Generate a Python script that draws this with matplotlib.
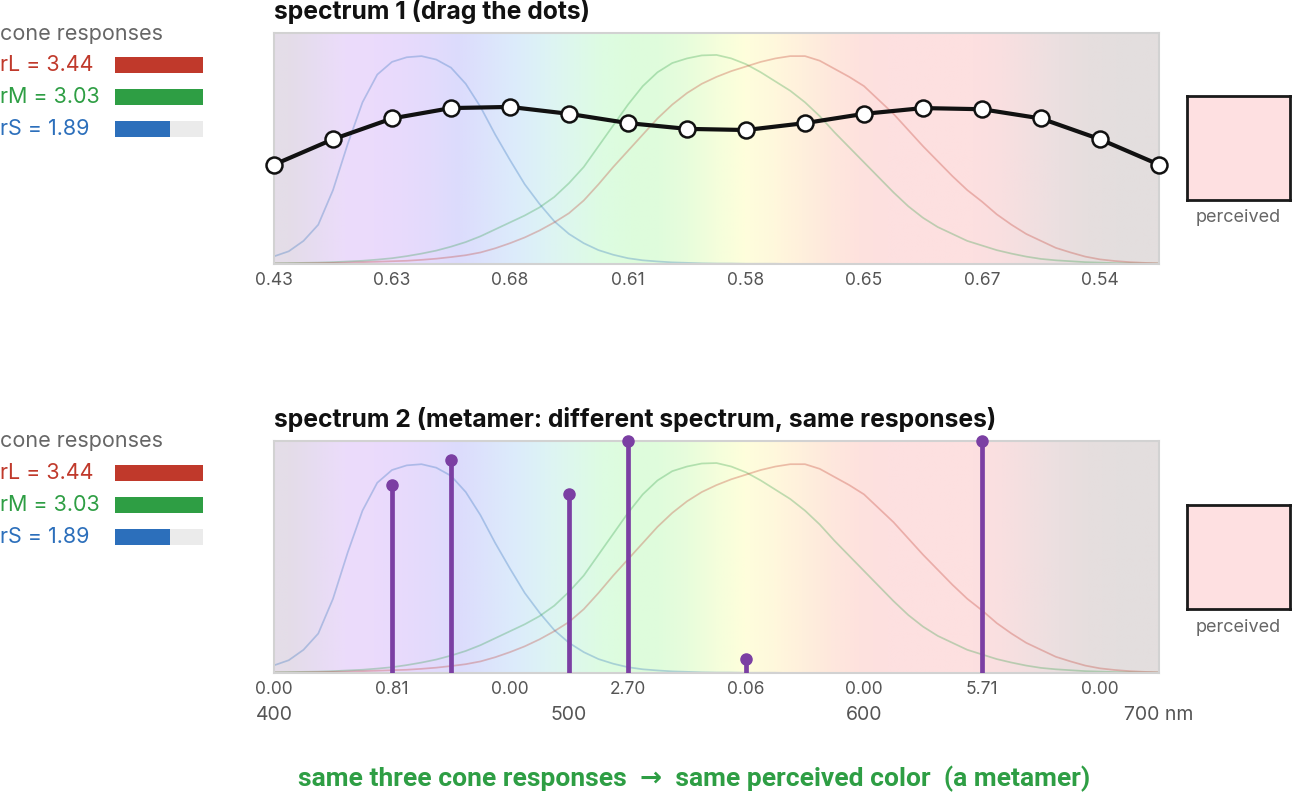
import numpy as np
import matplotlib
matplotlib.use("Agg")
import matplotlib.pyplot as plt
from matplotlib.colors import to_rgb
import matplotlib.transforms as mtransforms

plt.rcParams['font.family'] = ['Inter', 'DejaVu Sans']

# ---- data ----
# sample wavelengths of the two spectra (nm)
wl = [400, 420, 440, 460, 480, 500, 520, 540, 560, 580, 600, 620, 640, 660, 680, 700]
spec1 = [0.43, 0.54, 0.63, 0.675, 0.68, 0.65, 0.61, 0.585, 0.58, 0.61, 0.65, 0.675, 0.67, 0.63, 0.54, 0.43]
spec2 = [0.00, 0.00, 0.81, 0.92, 0.00, 0.77, 2.70, 0.00, 0.06, 0.00, 0.00, 0.00, 5.71, 0.00, 0.00, 0.00]

# cone sensitivity curves read at 5 nm (400..700)
wl5 = list(range(400, 701, 5))
cone_s = [0.033, 0.055, 0.10, 0.17, 0.32, 0.52, 0.70, 0.82, 0.875, 0.895, 0.90, 0.885, 0.85, 0.78, 0.68,
          0.56, 0.45, 0.345, 0.26, 0.185, 0.13, 0.09, 0.06, 0.04, 0.025, 0.016, 0.011, 0.007, 0.005, 0.003,
          0.002, 0.002, 0.001, 0.001, 0.001, 0.0, 0.0, 0.0, 0.0, 0.0, 0.0, 0.0, 0.0, 0.0, 0.0,
          0.0, 0.0, 0.0, 0.0, 0.0, 0.0, 0.0, 0.0, 0.0, 0.0, 0.0, 0.0, 0.0, 0.0, 0.0, 0.0]
cone_m = [0.003, 0.004, 0.005, 0.006, 0.008, 0.011, 0.014, 0.019, 0.025, 0.034, 0.045, 0.058, 0.075, 0.095, 0.12,
          0.15, 0.18, 0.21, 0.245, 0.29, 0.35, 0.42, 0.51, 0.60, 0.69, 0.77, 0.83, 0.87, 0.89, 0.903,
          0.905, 0.89, 0.865, 0.83, 0.79, 0.75, 0.70, 0.64, 0.57, 0.505, 0.44, 0.375, 0.31, 0.25, 0.20,
          0.16, 0.13, 0.10, 0.08, 0.06, 0.045, 0.032, 0.022, 0.016, 0.012, 0.008, 0.006, 0.004, 0.003, 0.002, 0.002]
cone_l = [0.002, 0.002, 0.003, 0.004, 0.005, 0.006, 0.008, 0.010, 0.012, 0.014, 0.018, 0.023, 0.03, 0.038, 0.05,
          0.068, 0.09, 0.115, 0.145, 0.18, 0.22, 0.275, 0.345, 0.42, 0.49, 0.56, 0.63, 0.69, 0.74, 0.78,
          0.81, 0.835, 0.855, 0.875, 0.89, 0.90, 0.90, 0.88, 0.845, 0.81, 0.77, 0.71, 0.65, 0.58, 0.51,
          0.445, 0.38, 0.32, 0.27, 0.215, 0.17, 0.13, 0.10, 0.07, 0.05, 0.032, 0.02, 0.013, 0.008, 0.005, 0.003]

# background tint per 10 nm
bg_colors = ['#e4dde8', '#e7dcf2', '#ecdcfb', '#ebdbfc', '#e8dafc', '#e3dbfc', '#dcdcfc', '#dce4fc',
             '#dcecfb', '#ddf3f5', '#ddf8ec', '#ddfce2', '#ddfcdd', '#e0fcdc', '#e8fddc', '#f4fedb',
             '#fefedc', '#fff8dc', '#fff0dc', '#fee8dd', '#fee2de', '#fde0e0', '#fde0e0', '#fde0e0',
             '#fde0e0', '#f9dfe0', '#f2dfe0', '#ebdfe0', '#e6dede', '#e4dede', '#e3dede']

responses = ['rL', 'rM', 'rS']
resp_values = [3.44, 3.03, 1.89]
resp_colors = ['#c0392b', '#2e9e44', '#2c6fbb']
perceived = '#fee0e1'

W, H = 1292, 794
fig = plt.figure(figsize=(W / 100, H / 100), dpi=100)


def px_axes(l, t, r, b):
    return fig.add_axes([l / W, 1 - b / H, (r - l) / W, (b - t) / H])


def spectrum_axes(top, bottom):
    ax = px_axes(274, top, 1159, bottom)
    bg = np.array([to_rgb(c) for c in bg_colors])[None, :, :]
    ax.imshow(bg, extent=[400, 700, 0, 1], aspect='auto', interpolation='bilinear', zorder=0)
    ax.plot(wl5, cone_s, color='#2c6fbb', alpha=0.3, lw=1.25, zorder=1)
    ax.plot(wl5, cone_m, color='#2e9e44', alpha=0.3, lw=1.25, zorder=1)
    ax.plot(wl5, cone_l, color='#c0392b', alpha=0.3, lw=1.25, zorder=1)
    ax.set_xlim(400, 700)
    ax.set_ylim(0, 1)
    ax.set_yticks([])
    for s in ax.spines.values():
        s.set_color('#d2d2d2')
        s.set_linewidth(1.5)
    ax.tick_params(axis='x', length=0, pad=6, labelsize=12.5, labelcolor='#555555')
    return ax


def cone_panel(top, title_y):
    fig.text(0, 1 - title_y / H, 'cone responses', fontsize=15.5, color='#666666', va='center', ha='left')
    for i, (n, v, c) in enumerate(zip(responses, resp_values, resp_colors)):
        y = top + 16 + i * 32
        fig.text(0, 1 - y / H, f'{n} = {v:.2f}', fontsize=15.5, color=c, va='center', ha='left')
    bax = px_axes(115, top, 203, top + 96)
    bax.barh(range(3), [3] * 3, height=0.5, color='#ebebeb')
    bax.barh(range(3), [min(v, 3) for v in resp_values], height=0.5, color=resp_colors)
    bax.set_xlim(0, 3)
    bax.set_ylim(2.5, -0.5)
    bax.axis('off')


def perceived_box(top):
    pax = px_axes(1187, top, 1290, top + 104)
    pax.set_facecolor(perceived)
    pax.set_xticks([])
    pax.set_yticks([])
    for s in pax.spines.values():
        s.set_color('#1a1a1a')
        s.set_linewidth(2)
    fig.text(1238 / W, 1 - (top + 122) / H, 'perceived', fontsize=13, color='#666666', ha='center', va='center')


# ---- spectrum 1 ----
fig.text(274 / W, 1 - 12 / H, 'spectrum 1 (drag the dots)', fontsize=17.8, fontweight='bold',
         color='#111111', va='center', ha='left')
ax1 = spectrum_axes(33, 264)
ax1.plot(wl, spec1, color='#111111', lw=3.0, marker='o', markersize=11.5, markerfacecolor='white',
         markeredgecolor='#111111', markeredgewidth=1.8, clip_on=False, zorder=5)
ax1.set_xticks(wl[:-1:2])
ax1.set_xticklabels([f'{v:.2f}' for v in spec1[:-1:2]])
cone_panel(49, 34)
perceived_box(96)

# ---- spectrum 2 ----
fig.text(274 / W, 1 - 419 / H, 'spectrum 2 (metamer: different spectrum, same responses)', fontsize=17.8,
         fontweight='bold', color='#111111', va='center', ha='left')
ax2 = spectrum_axes(441, 673)
purple = '#7b3fa3'
for x, v in zip(wl, spec2):
    if v > 0:
        h = min(v, 1.0)
        ax2.vlines(x, 0, h, color=purple, lw=3.4, zorder=4)
        ax2.plot([x], [h], 'o', color=purple, markersize=8, clip_on=False, zorder=5)
ax2.set_xticks(wl[:-1:2])
ax2.set_xticklabels([f'{v:.2f}' for v in spec2[:-1:2]])
trans = mtransforms.blended_transform_factory(ax2.transData, fig.transFigure)
for x, lab in zip([400, 500, 600, 700], ['400', '500', '600', '700 nm']):
    ax2.text(x, 1 - 715 / H, lab, transform=trans, fontsize=14, color='#555555', ha='center', va='center')
cone_panel(457, 441)
perceived_box(505)

fig.text(694 / W, 1 - 779 / H, 'same three cone responses  \u2192  same perceived color  (a metamer)',
         fontsize=19, fontweight='bold', color='#2e9e44', ha='center', va='center',
         family=['Roboto', 'DejaVu Sans'])

fig.savefig('out.png', dpi=100)
